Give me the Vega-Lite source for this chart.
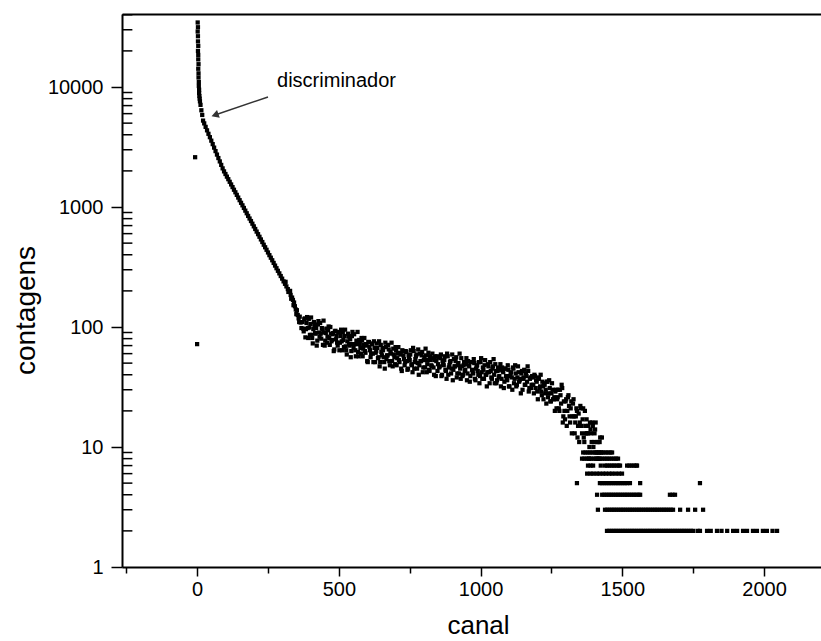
{
"$schema": "https://vega.github.io/schema/vega-lite/v6.json",
"width": 699, "height": 553,
"autosize": {"type": "none"},
"padding": {"left": 122, "top": 14, "right": 0, "bottom": 74},
"background": "white",
"config": {"view": {"stroke": null}, "font": "Liberation Sans",
 "axis": {"grid": false, "labelFont": "Liberation Sans", "titleFont": "Liberation Sans", "labelColor": "black", "titleColor": "black", "domainColor": "black", "tickColor": "black", "titleFontWeight": "normal"}},
"layer": [
{
"data": {"values": [{"m":2},{"m":3},{"m":4},{"m":5},{"m":6},{"m":7},{"m":8},{"m":9},{"m":20},{"m":30},{"m":40},{"m":50},{"m":60},{"m":70},{"m":80},{"m":90},{"m":200},{"m":300},{"m":400},{"m":500},{"m":600},{"m":700},{"m":800},{"m":900},{"m":2000},{"m":3000},{"m":4000},{"m":5000},{"m":6000},{"m":7000},{"m":8000},{"m":9000},{"m":20000},{"m":30000},{"m":40000}]},
"mark": {"type": "tick", "orient": "horizontal", "color": "black", "thickness": 1.5, "size": 10, "opacity": 1},
"encoding": {
"x": {"datum": -246, "type": "quantitative", "scale": {"domain": [-265, 2201], "nice": false, "zero": false}, "axis": null},
"y": {"field": "m", "type": "quantitative", "scale": {"type": "log", "domain": [1, 40600], "nice": false}, "axis": null}
}
},
{
"data": {"values": [
{"canal":2,"contagens":34500},{"canal":3,"contagens":31500},{"canal":2,"contagens":29000},{"canal":3,"contagens":26500},{"canal":3,"contagens":24000},{"canal":4,"contagens":22000},{"canal":3,"contagens":20000},{"canal":4,"contagens":18500},{"canal":4,"contagens":17000},{"canal":5,"contagens":15500},{"canal":4,"contagens":14200},{"canal":5,"contagens":13000},{"canal":5,"contagens":12000},{"canal":6,"contagens":11000},{"canal":6,"contagens":10200},{"canal":7,"contagens":9500},{"canal":7,"contagens":8900},{"canal":8,"contagens":8400},{"canal":9,"contagens":8000},{"canal":10,"contagens":7600},{"canal":12,"contagens":7100},{"canal":15,"contagens":6400},{"canal":18,"contagens":5850},
{"canal":-7,"contagens":2600},{"canal":0,"contagens":72},
{"canal":21,"contagens":5250},{"canal":25,"contagens":4977},{"canal":30,"contagens":4656},{"canal":35,"contagens":4355},{"canal":40,"contagens":4074},{"canal":45,"contagens":3819},{"canal":50,"contagens":3573},{"canal":55,"contagens":3342},{"canal":60,"contagens":3126},{"canal":65,"contagens":2924},{"canal":70,"contagens":2735},{"canal":75,"contagens":2559},{"canal":80,"contagens":2399},{"canal":85,"contagens":2244},{"canal":90,"contagens":2099},{"canal":95,"contagens":1982},{"canal":100,"contagens":1884},{"canal":105,"contagens":1791},{"canal":110,"contagens":1706},{"canal":115,"contagens":1622},{"canal":120,"contagens":1542},{"canal":125,"contagens":1466},{"canal":130,"contagens":1393},{"canal":135,"contagens":1327},{"canal":140,"contagens":1262},{"canal":145,"contagens":1199},{"canal":150,"contagens":1140},{"canal":155,"contagens":1084},{"canal":160,"contagens":1033},{"canal":165,"contagens":982},{"canal":170,"contagens":933},{"canal":175,"contagens":887},{"canal":180,"contagens":843},{"canal":185,"contagens":802},{"canal":190,"contagens":764},{"canal":195,"contagens":726},{"canal":200,"contagens":690},{"canal":205,"contagens":656},{"canal":210,"contagens":624},{"canal":215,"contagens":594},{"canal":220,"contagens":565},{"canal":225,"contagens":537},{"canal":230,"contagens":511},{"canal":235,"contagens":485},{"canal":240,"contagens":462},{"canal":245,"contagens":440},{"canal":250,"contagens":418},{"canal":255,"contagens":397},{"canal":260,"contagens":378},{"canal":265,"contagens":360},{"canal":270,"contagens":342},{"canal":275,"contagens":325},{"canal":280,"contagens":309},{"canal":285,"contagens":294},{"canal":290,"contagens":280},{"canal":295,"contagens":266},{"canal":300,"contagens":253},{"canal":305,"contagens":240},{"canal":310,"contagens":229},{"canal":312,"contagens":238},{"canal":315,"contagens":218},{"canal":320,"contagens":207},{"canal":322,"contagens":196},{"canal":325,"contagens":197},{"canal":328,"contagens":200},{"canal":330,"contagens":185},{"canal":332,"contagens":172},{"canal":335,"contagens":176},{"canal":338,"contagens":168},{"canal":340,"contagens":152},{"canal":342,"contagens":160},{"canal":345,"contagens":149},{"canal":348,"contagens":140},{"canal":350,"contagens":128},{"canal":352,"contagens":138},{"canal":355,"contagens":126},{"canal":358,"contagens":118},{"canal":360,"contagens":110},{"canal":362,"contagens":122},{"canal":365,"contagens":109},{"canal":368,"contagens":98},
{"canal":372,"contagens":110},{"canal":376,"contagens":92},{"canal":380,"contagens":118},{"canal":384,"contagens":96},{"canal":388,"contagens":121},{"canal":392,"contagens":81},{"canal":396,"contagens":99},{"canal":400,"contagens":106},{"canal":404,"contagens":86},{"canal":408,"contagens":73},{"canal":412,"contagens":110},{"canal":416,"contagens":89},{"canal":420,"contagens":98},{"canal":424,"contagens":77},{"canal":428,"contagens":112},{"canal":432,"contagens":83},{"canal":436,"contagens":88},{"canal":440,"contagens":98},{"canal":444,"contagens":71},{"canal":448,"contagens":90},{"canal":452,"contagens":77},{"canal":456,"contagens":97},{"canal":460,"contagens":83},{"canal":464,"contagens":101},{"canal":468,"contagens":71},{"canal":472,"contagens":88},{"canal":476,"contagens":78},{"canal":480,"contagens":89},{"canal":484,"contagens":65},{"canal":488,"contagens":93},{"canal":492,"contagens":84},{"canal":496,"contagens":70},{"canal":500,"contagens":91},{"canal":504,"contagens":74},{"canal":508,"contagens":95},{"canal":512,"contagens":64},{"canal":516,"contagens":78},{"canal":520,"contagens":84},{"canal":524,"contagens":69},{"canal":528,"contagens":59},{"canal":532,"contagens":88},{"canal":536,"contagens":72},{"canal":540,"contagens":79},{"canal":544,"contagens":63},{"canal":548,"contagens":91},{"canal":552,"contagens":67},{"canal":556,"contagens":72},{"canal":560,"contagens":57},{"canal":564,"contagens":72},{"canal":568,"contagens":62},{"canal":572,"contagens":78},{"canal":576,"contagens":67},{"canal":580,"contagens":81},{"canal":584,"contagens":57},{"canal":588,"contagens":71},{"canal":592,"contagens":63},{"canal":596,"contagens":72},{"canal":600,"contagens":52},{"canal":604,"contagens":75},{"canal":608,"contagens":68},{"canal":612,"contagens":56},{"canal":616,"contagens":73},{"canal":620,"contagens":60},{"canal":624,"contagens":76},{"canal":628,"contagens":51},{"canal":632,"contagens":63},{"canal":636,"contagens":67},{"canal":640,"contagens":56},{"canal":644,"contagens":47},{"canal":648,"contagens":71},{"canal":652,"contagens":58},{"canal":656,"contagens":64},{"canal":660,"contagens":51},{"canal":664,"contagens":74},{"canal":668,"contagens":54},{"canal":672,"contagens":58},{"canal":676,"contagens":65},{"canal":680,"contagens":48},{"canal":684,"contagens":60},{"canal":688,"contagens":52},{"canal":692,"contagens":66},{"canal":696,"contagens":56},{"canal":700,"contagens":68},{"canal":704,"contagens":48},{"canal":708,"contagens":60},{"canal":712,"contagens":53},{"canal":716,"contagens":61},{"canal":720,"contagens":45},{"canal":724,"contagens":64},{"canal":728,"contagens":58},{"canal":732,"contagens":48},{"canal":736,"contagens":63},{"canal":740,"contagens":52},{"canal":744,"contagens":45},{"canal":748,"contagens":55},{"canal":752,"contagens":59},{"canal":756,"contagens":49},{"canal":760,"contagens":42},{"canal":764,"contagens":63},{"canal":768,"contagens":51},{"canal":772,"contagens":57},{"canal":776,"contagens":45},{"canal":780,"contagens":65},{"canal":784,"contagens":48},{"canal":788,"contagens":52},{"canal":792,"contagens":58},{"canal":796,"contagens":42},{"canal":800,"contagens":53},{"canal":804,"contagens":46},{"canal":808,"contagens":58},{"canal":812,"contagens":49},{"canal":816,"contagens":61},{"canal":820,"contagens":43},{"canal":824,"contagens":53},{"canal":828,"contagens":47},{"canal":832,"contagens":55},{"canal":836,"contagens":40},{"canal":840,"contagens":57},{"canal":844,"contagens":52},{"canal":848,"contagens":43},{"canal":852,"contagens":56},{"canal":856,"contagens":47},{"canal":860,"contagens":59},{"canal":864,"contagens":40},{"canal":868,"contagens":49},{"canal":872,"contagens":53},{"canal":876,"contagens":44},{"canal":880,"contagens":37},{"canal":884,"contagens":57},{"canal":888,"contagens":46},{"canal":892,"contagens":51},{"canal":896,"contagens":41},{"canal":900,"contagens":59},{"canal":904,"contagens":44},{"canal":908,"contagens":47},{"canal":912,"contagens":52},{"canal":916,"contagens":38},{"canal":920,"contagens":48},{"canal":924,"contagens":41},{"canal":928,"contagens":45},{"canal":932,"contagens":55},{"canal":936,"contagens":39},{"canal":940,"contagens":48},{"canal":944,"contagens":43},{"canal":948,"contagens":49},{"canal":952,"contagens":36},{"canal":956,"contagens":52},{"canal":960,"contagens":47},{"canal":964,"contagens":39},{"canal":968,"contagens":51},{"canal":972,"contagens":42},{"canal":976,"contagens":54},{"canal":980,"contagens":37},{"canal":984,"contagens":45},{"canal":988,"contagens":48},{"canal":992,"contagens":40},{"canal":996,"contagens":34},{"canal":1000,"contagens":51},{"canal":1004,"contagens":42},{"canal":1008,"contagens":46},{"canal":1012,"contagens":37},{"canal":1016,"contagens":53},{"canal":1020,"contagens":40},{"canal":1024,"contagens":42},{"canal":1028,"contagens":47},{"canal":1032,"contagens":34},{"canal":1036,"contagens":43},{"canal":1040,"contagens":37},{"canal":1044,"contagens":47},{"canal":1048,"contagens":40},{"canal":1052,"contagens":49},{"canal":1056,"contagens":34},{"canal":1060,"contagens":43},{"canal":1064,"contagens":38},{"canal":1068,"contagens":44},{"canal":1072,"contagens":32},{"canal":1076,"contagens":46},{"canal":1080,"contagens":42},{"canal":1084,"contagens":35},{"canal":1088,"contagens":45},{"canal":1092,"contagens":37},{"canal":1096,"contagens":48},{"canal":1100,"contagens":32},{"canal":1104,"contagens":39},{"canal":1108,"contagens":42},{"canal":1112,"contagens":30},{"canal":1116,"contagens":45},{"canal":1120,"contagens":37},{"canal":1124,"contagens":41},{"canal":1128,"contagens":33},{"canal":1132,"contagens":47},{"canal":1136,"contagens":35},{"canal":1140,"contagens":37},{"canal":1144,"contagens":41},{"canal":1148,"contagens":30},{"canal":1152,"contagens":38},{"canal":1156,"contagens":33},{"canal":1160,"contagens":41},{"canal":1164,"contagens":35},{"canal":1168,"contagens":43},{"canal":1172,"contagens":31},{"canal":1176,"contagens":38},{"canal":1180,"contagens":33},{"canal":1184,"contagens":38},{"canal":1188,"contagens":28},{"canal":1192,"contagens":39},{"canal":1196,"contagens":36},{"canal":1200,"contagens":29},{"canal":1204,"contagens":38},{"canal":1208,"contagens":31},{"canal":1212,"contagens":40},{"canal":1216,"contagens":27},{"canal":1220,"contagens":32},{"canal":1224,"contagens":34},{"canal":1228,"contagens":28},{"canal":1232,"contagens":23},{"canal":1236,"contagens":35},{"canal":1240,"contagens":28},{"canal":1244,"contagens":31},{"canal":1248,"contagens":24},{"canal":1252,"contagens":34},{"canal":1256,"contagens":25},{"canal":1260,"contagens":26},{"canal":1264,"contagens":29},{"canal":1268,"contagens":21},{"canal":1272,"contagens":26},{"canal":1276,"contagens":21},{"canal":1280,"contagens":30},{"canal":1284,"contagens":23},{"canal":1288,"contagens":31},{"canal":1292,"contagens":18},{"canal":1296,"contagens":20},{"canal":1300,"contagens":24},{"canal":1304,"contagens":15},{"canal":1308,"contagens":26},{"canal":1312,"contagens":22},{"canal":1316,"contagens":16},{"canal":1320,"contagens":24},{"canal":1324,"contagens":18},{"canal":1328,"contagens":25},{"canal":1332,"contagens":13},{"canal":1336,"contagens":18},{"canal":1340,"contagens":20},{"canal":1344,"contagens":15},{"canal":1348,"contagens":11},{"canal":1352,"contagens":22},{"canal":1356,"contagens":15},{"canal":1360,"contagens":17},{"canal":1364,"contagens":12},{"canal":1368,"contagens":20},{"canal":1372,"contagens":13},{"canal":1376,"contagens":13},{"canal":1380,"contagens":15},{"canal":1384,"contagens":10},{"canal":1388,"contagens":14},{"canal":1392,"contagens":11},{"canal":1396,"contagens":15},{"canal":1400,"contagens":11},{"canal":1404,"contagens":14},{"canal":1408,"contagens":9},{"canal":1412,"contagens":11},{"canal":1416,"contagens":9},{"canal":1420,"contagens":11},{"canal":1424,"contagens":7},{"canal":1428,"contagens":12},
{"canal":374,"contagens":97},{"canal":378,"contagens":116},{"canal":382,"contagens":82},{"canal":386,"contagens":108},{"canal":390,"contagens":98},{"canal":394,"contagens":117},{"canal":398,"contagens":86},{"canal":402,"contagens":120},{"canal":406,"contagens":81},{"canal":410,"contagens":96},{"canal":414,"contagens":103},{"canal":418,"contagens":88},{"canal":422,"contagens":70},{"canal":426,"contagens":105},{"canal":430,"contagens":90},{"canal":434,"contagens":108},{"canal":438,"contagens":80},{"canal":442,"contagens":95},{"canal":446,"contagens":113},{"canal":450,"contagens":70},{"canal":454,"contagens":89},{"canal":458,"contagens":74},{"canal":462,"contagens":94},{"canal":466,"contagens":81},{"canal":470,"contagens":100},{"canal":474,"contagens":76},{"canal":478,"contagens":87},{"canal":482,"contagens":63},{"canal":486,"contagens":92},{"canal":490,"contagens":79},{"canal":494,"contagens":74},{"canal":498,"contagens":90},{"canal":502,"contagens":64},{"canal":506,"contagens":84},{"canal":510,"contagens":76},{"canal":514,"contagens":91},{"canal":518,"contagens":68},{"canal":522,"contagens":95},{"canal":526,"contagens":64},{"canal":530,"contagens":76},{"canal":534,"contagens":83},{"canal":538,"contagens":70},{"canal":542,"contagens":56},{"canal":546,"contagens":84},{"canal":550,"contagens":72},{"canal":554,"contagens":87},{"canal":558,"contagens":64},{"canal":562,"contagens":77},{"canal":566,"contagens":91},{"canal":570,"contagens":57},{"canal":574,"contagens":72},{"canal":578,"contagens":60},{"canal":582,"contagens":77},{"canal":586,"contagens":66},{"canal":590,"contagens":81},{"canal":594,"contagens":61},{"canal":598,"contagens":70},{"canal":602,"contagens":51},{"canal":606,"contagens":75},{"canal":610,"contagens":64},{"canal":614,"contagens":60},{"canal":618,"contagens":72},{"canal":622,"contagens":51},{"canal":626,"contagens":67},{"canal":630,"contagens":61},{"canal":634,"contagens":73},{"canal":638,"contagens":55},{"canal":642,"contagens":76},{"canal":646,"contagens":51},{"canal":650,"contagens":62},{"canal":654,"contagens":67},{"canal":658,"contagens":56},{"canal":662,"contagens":45},{"canal":666,"contagens":68},{"canal":670,"contagens":58},{"canal":674,"contagens":71},{"canal":678,"contagens":52},{"canal":682,"contagens":62},{"canal":686,"contagens":74},{"canal":690,"contagens":47},{"canal":694,"contagens":59},{"canal":698,"contagens":49},{"canal":702,"contagens":64},{"canal":706,"contagens":55},{"canal":710,"contagens":68},{"canal":714,"contagens":51},{"canal":718,"contagens":59},{"canal":722,"contagens":43},{"canal":726,"contagens":63},{"canal":730,"contagens":54},{"canal":734,"contagens":51},{"canal":738,"contagens":62},{"canal":742,"contagens":44},{"canal":746,"contagens":58},{"canal":750,"contagens":53},{"canal":754,"contagens":64},{"canal":758,"contagens":48},{"canal":762,"contagens":67},{"canal":766,"contagens":45},{"canal":770,"contagens":54},{"canal":774,"contagens":59},{"canal":778,"contagens":50},{"canal":782,"contagens":40},{"canal":786,"contagens":60},{"canal":790,"contagens":52},{"canal":794,"contagens":62},{"canal":798,"contagens":46},{"canal":802,"contagens":56},{"canal":806,"contagens":66},{"canal":810,"contagens":42},{"canal":814,"contagens":53},{"canal":818,"contagens":44},{"canal":822,"contagens":57},{"canal":826,"contagens":48},{"canal":830,"contagens":60},{"canal":834,"contagens":46},{"canal":838,"contagens":53},{"canal":842,"contagens":39},{"canal":846,"contagens":57},{"canal":850,"contagens":49},{"canal":854,"contagens":46},{"canal":858,"contagens":55},{"canal":862,"contagens":39},{"canal":866,"contagens":52},{"canal":870,"contagens":48},{"canal":874,"contagens":57},{"canal":878,"contagens":43},{"canal":882,"contagens":60},{"canal":886,"contagens":40},{"canal":890,"contagens":48},{"canal":894,"contagens":52},{"canal":898,"contagens":45},{"canal":902,"contagens":36},{"canal":906,"contagens":54},{"canal":910,"contagens":47},{"canal":914,"contagens":56},{"canal":918,"contagens":41},{"canal":922,"contagens":50},{"canal":926,"contagens":60},{"canal":930,"contagens":37},{"canal":934,"contagens":47},{"canal":938,"contagens":40},{"canal":942,"contagens":51},{"canal":946,"contagens":44},{"canal":950,"contagens":55},{"canal":954,"contagens":41},{"canal":958,"contagens":48},{"canal":962,"contagens":35},{"canal":966,"contagens":51},{"canal":970,"contagens":44},{"canal":974,"contagens":41},{"canal":978,"contagens":50},{"canal":982,"contagens":36},{"canal":986,"contagens":47},{"canal":990,"contagens":43},{"canal":994,"contagens":51},{"canal":998,"contagens":39},{"canal":1002,"contagens":55},{"canal":1006,"contagens":37},{"canal":1010,"contagens":44},{"canal":1014,"contagens":48},{"canal":1018,"contagens":40},{"canal":1022,"contagens":32},{"canal":1026,"contagens":49},{"canal":1030,"contagens":42},{"canal":1034,"contagens":51},{"canal":1038,"contagens":38},{"canal":1042,"contagens":45},{"canal":1046,"contagens":54},{"canal":1050,"contagens":34},{"canal":1054,"contagens":43},{"canal":1058,"contagens":36},{"canal":1062,"contagens":46},{"canal":1066,"contagens":39},{"canal":1070,"contagens":49},{"canal":1074,"contagens":37},{"canal":1078,"contagens":43},{"canal":1082,"contagens":31},{"canal":1086,"contagens":45},{"canal":1090,"contagens":39},{"canal":1094,"contagens":36},{"canal":1098,"contagens":44},{"canal":1102,"contagens":32},{"canal":1106,"contagens":41},{"canal":1110,"contagens":38},{"canal":1114,"contagens":46},{"canal":1118,"contagens":34},{"canal":1122,"contagens":48},{"canal":1126,"contagens":32},{"canal":1130,"contagens":38},{"canal":1134,"contagens":42},{"canal":1138,"contagens":36},{"canal":1142,"contagens":28},{"canal":1146,"contagens":43},{"canal":1150,"contagens":37},{"canal":1154,"contagens":44},{"canal":1158,"contagens":33},{"canal":1162,"contagens":39},{"canal":1166,"contagens":47},{"canal":1170,"contagens":29},{"canal":1174,"contagens":37},{"canal":1178,"contagens":31},{"canal":1182,"contagens":39},{"canal":1186,"contagens":33},{"canal":1190,"contagens":40},{"canal":1194,"contagens":31},{"canal":1198,"contagens":35},{"canal":1202,"contagens":25},{"canal":1206,"contagens":37},{"canal":1210,"contagens":32},{"canal":1214,"contagens":29},{"canal":1218,"contagens":35},{"canal":1222,"contagens":25},{"canal":1226,"contagens":33},{"canal":1230,"contagens":30},{"canal":1234,"contagens":35},{"canal":1238,"contagens":26},{"canal":1242,"contagens":36},{"canal":1246,"contagens":24},{"canal":1250,"contagens":28},{"canal":1254,"contagens":30},{"canal":1258,"contagens":25},{"canal":1262,"contagens":20},{"canal":1266,"contagens":30},{"canal":1270,"contagens":25},{"canal":1274,"contagens":30},{"canal":1278,"contagens":20},{"canal":1282,"contagens":27},{"canal":1286,"contagens":33},{"canal":1290,"contagens":16},{"canal":1294,"contagens":24},{"canal":1298,"contagens":17},{"canal":1302,"contagens":25},{"canal":1306,"contagens":20},{"canal":1310,"contagens":27},{"canal":1314,"contagens":18},{"canal":1318,"contagens":21},{"canal":1322,"contagens":13},{"canal":1326,"contagens":23},{"canal":1330,"contagens":18},{"canal":1334,"contagens":16},{"canal":1338,"contagens":21},{"canal":1342,"contagens":12},{"canal":1346,"contagens":19},{"canal":1350,"contagens":16},{"canal":1354,"contagens":21},{"canal":1358,"contagens":13},{"canal":1362,"contagens":21},{"canal":1366,"contagens":11},{"canal":1370,"contagens":15},{"canal":1374,"contagens":17},{"canal":1378,"contagens":13},{"canal":1382,"contagens":8},{"canal":1386,"contagens":16},{"canal":1390,"contagens":13},{"canal":1394,"contagens":16},{"canal":1398,"contagens":10},{"canal":1402,"contagens":13},{"canal":1406,"contagens":16},{"canal":1410,"contagens":8},{"canal":1414,"contagens":11},{"canal":1418,"contagens":8},{"canal":1422,"contagens":12},{"canal":1426,"contagens":9},
{"canal":1362,"contagens":9},{"canal":1370,"contagens":9},{"canal":1378,"contagens":9},{"canal":1386,"contagens":9},{"canal":1394,"contagens":9},{"canal":1402,"contagens":9},{"canal":1410,"contagens":9},{"canal":1418,"contagens":9},{"canal":1426,"contagens":9},{"canal":1434,"contagens":9},{"canal":1442,"contagens":9},{"canal":1450,"contagens":9},{"canal":1458,"contagens":9},{"canal":1464,"contagens":9},
{"canal":1358,"contagens":8},{"canal":1366,"contagens":8},{"canal":1374,"contagens":8},{"canal":1382,"contagens":8},{"canal":1390,"contagens":8},{"canal":1398,"contagens":8},{"canal":1406,"contagens":8},{"canal":1414,"contagens":8},{"canal":1422,"contagens":8},{"canal":1430,"contagens":8},{"canal":1438,"contagens":8},{"canal":1446,"contagens":8},{"canal":1454,"contagens":8},{"canal":1462,"contagens":8},{"canal":1470,"contagens":8},{"canal":1478,"contagens":8},{"canal":1485,"contagens":8},
{"canal":1379,"contagens":7},{"canal":1388,"contagens":7},{"canal":1397,"contagens":7},{"canal":1439,"contagens":7},{"canal":1447,"contagens":7},{"canal":1455,"contagens":7},{"canal":1463,"contagens":7},{"canal":1471,"contagens":7},{"canal":1479,"contagens":7},{"canal":1487,"contagens":7},{"canal":1492,"contagens":7},{"canal":1517,"contagens":7},{"canal":1525,"contagens":7},{"canal":1533,"contagens":7},{"canal":1541,"contagens":7},{"canal":1549,"contagens":7},{"canal":1552,"contagens":7},
{"canal":1376,"contagens":6},{"canal":1388,"contagens":6},{"canal":1398,"contagens":6},{"canal":1410,"contagens":6},{"canal":1420,"contagens":6},{"canal":1432,"contagens":6},{"canal":1442,"contagens":6},{"canal":1454,"contagens":6},{"canal":1464,"contagens":6},{"canal":1476,"contagens":6},{"canal":1488,"contagens":6},{"canal":1499,"contagens":6},
{"canal":1340,"contagens":5},{"canal":1421,"contagens":5},{"canal":1429,"contagens":5},{"canal":1437,"contagens":5},{"canal":1445,"contagens":5},{"canal":1453,"contagens":5},{"canal":1461,"contagens":5},{"canal":1469,"contagens":5},{"canal":1477,"contagens":5},{"canal":1485,"contagens":5},{"canal":1493,"contagens":5},{"canal":1501,"contagens":5},{"canal":1509,"contagens":5},{"canal":1517,"contagens":5},{"canal":1527,"contagens":5},{"canal":1563,"contagens":5},{"canal":1774,"contagens":5},
{"canal":1411,"contagens":4},{"canal":1429,"contagens":4},{"canal":1437,"contagens":4},{"canal":1445,"contagens":4},{"canal":1453,"contagens":4},{"canal":1461,"contagens":4},{"canal":1469,"contagens":4},{"canal":1477,"contagens":4},{"canal":1485,"contagens":4},{"canal":1493,"contagens":4},{"canal":1501,"contagens":4},{"canal":1509,"contagens":4},{"canal":1517,"contagens":4},{"canal":1525,"contagens":4},{"canal":1533,"contagens":4},{"canal":1541,"contagens":4},{"canal":1549,"contagens":4},{"canal":1557,"contagens":4},{"canal":1563,"contagens":4},{"canal":1668,"contagens":4},{"canal":1677,"contagens":4},{"canal":1686,"contagens":4},
{"canal":1414,"contagens":3},{"canal":1439,"contagens":3},{"canal":1447,"contagens":3},{"canal":1455,"contagens":3},{"canal":1463,"contagens":3},{"canal":1471,"contagens":3},{"canal":1479,"contagens":3},{"canal":1487,"contagens":3},{"canal":1495,"contagens":3},{"canal":1503,"contagens":3},{"canal":1511,"contagens":3},{"canal":1519,"contagens":3},{"canal":1527,"contagens":3},{"canal":1535,"contagens":3},{"canal":1543,"contagens":3},{"canal":1551,"contagens":3},{"canal":1559,"contagens":3},{"canal":1567,"contagens":3},{"canal":1575,"contagens":3},{"canal":1583,"contagens":3},{"canal":1591,"contagens":3},{"canal":1599,"contagens":3},{"canal":1607,"contagens":3},{"canal":1615,"contagens":3},{"canal":1623,"contagens":3},{"canal":1631,"contagens":3},{"canal":1639,"contagens":3},{"canal":1647,"contagens":3},{"canal":1655,"contagens":3},{"canal":1663,"contagens":3},{"canal":1671,"contagens":3},{"canal":1679,"contagens":3},{"canal":1704,"contagens":3},{"canal":1732,"contagens":3},{"canal":1757,"contagens":3},{"canal":1785,"contagens":3},
{"canal":1446,"contagens":2},{"canal":1454,"contagens":2},{"canal":1462,"contagens":2},{"canal":1470,"contagens":2},{"canal":1478,"contagens":2},{"canal":1486,"contagens":2},{"canal":1494,"contagens":2},{"canal":1502,"contagens":2},{"canal":1510,"contagens":2},{"canal":1518,"contagens":2},{"canal":1526,"contagens":2},{"canal":1534,"contagens":2},{"canal":1542,"contagens":2},{"canal":1550,"contagens":2},{"canal":1558,"contagens":2},{"canal":1566,"contagens":2},{"canal":1574,"contagens":2},{"canal":1582,"contagens":2},{"canal":1590,"contagens":2},{"canal":1598,"contagens":2},{"canal":1606,"contagens":2},{"canal":1614,"contagens":2},{"canal":1622,"contagens":2},{"canal":1630,"contagens":2},{"canal":1638,"contagens":2},{"canal":1646,"contagens":2},{"canal":1654,"contagens":2},{"canal":1662,"contagens":2},{"canal":1670,"contagens":2},{"canal":1678,"contagens":2},{"canal":1686,"contagens":2},{"canal":1694,"contagens":2},{"canal":1702,"contagens":2},{"canal":1710,"contagens":2},{"canal":1718,"contagens":2},{"canal":1726,"contagens":2},{"canal":1734,"contagens":2},{"canal":1742,"contagens":2},{"canal":1750,"contagens":2},{"canal":1766,"contagens":2},{"canal":1774,"contagens":2},{"canal":1799,"contagens":2},{"canal":1812,"contagens":2},{"canal":1834,"contagens":2},{"canal":1850,"contagens":2},{"canal":1870,"contagens":2},{"canal":1891,"contagens":2},{"canal":1905,"contagens":2},{"canal":1926,"contagens":2},{"canal":1940,"contagens":2},{"canal":1961,"contagens":2},{"canal":1975,"contagens":2},{"canal":1996,"contagens":2},{"canal":2010,"contagens":2},{"canal":2030,"contagens":2},{"canal":2046,"contagens":2}
]},
"mark": {"type": "point", "shape": "square", "filled": true, "size": 18, "color": "black", "opacity": 1, "strokeWidth": 0},
"encoding": {
"x": {"field": "canal", "type": "quantitative", "scale": {"domain": [-265, 2201], "nice": false, "zero": false},
 "axis": {"orient": "bottom", "values": [0, 500, 1000, 1500, 2000], "format": "d", "labelFontSize": 20, "labelFlush": false, "labelOverlap": false, "tickSize": 9, "tickWidth": 1.5, "domainWidth": 2, "labelPadding": 3, "title": "canal", "titleFontSize": 26, "titleX": 356, "titleY": 66, "titleBaseline": "alphabetic", "titleAlign": "center"}},
"y": {"field": "contagens", "type": "quantitative", "scale": {"type": "log", "domain": [1, 40600], "nice": false},
 "axis": {"orient": "left", "values": [1, 10, 100, 1000, 10000], "format": "d", "labelFontSize": 20, "labelFlush": false, "labelOverlap": false, "tickSize": 11, "tickWidth": 1.5, "domainWidth": 2, "labelPadding": 8, "title": "contagens", "titleFontSize": 28, "titleAngle": -90, "titleX": -96, "titleY": 296, "titleAlign": "center", "titleBaseline": "middle"}}
}
},
{
"data": {"values": [{"x1": 250, "y1": 8260, "x2": 63, "y2": 5840}]},
"mark": {"type": "rule", "color": "#333333", "strokeWidth": 1.5},
"encoding": {
"x": {"field": "x1", "type": "quantitative", "scale": {"domain": [-265, 2201], "nice": false, "zero": false},
 "axis": {"orient": "bottom", "values": [-250, 250, 750, 1250, 1750], "labels": false, "domain": false, "tickSize": 6, "tickWidth": 1.5, "title": null}},
"x2": {"field": "x2"},
"y": {"field": "y1", "type": "quantitative", "scale": {"type": "log", "domain": [1, 40600], "nice": false}, "axis": null},
"y2": {"field": "y2"}
}
},
{
"data": {"values": [{"x": 282, "y": 10000, "t": "discriminador"}]},
"mark": {"type": "text", "align": "left", "baseline": "alphabetic", "fontSize": 20, "font": "Liberation Sans", "color": "black"},
"encoding": {
"x": {"field": "x", "type": "quantitative", "scale": {"domain": [-265, 2201], "nice": false, "zero": false},
 "axis": {"orient": "top", "ticks": false, "labels": false, "domain": true, "domainWidth": 2, "title": null}},
"y": {"field": "y", "type": "quantitative", "scale": {"type": "log", "domain": [1, 40600], "nice": false}, "axis": null},
"text": {"field": "t"}
}
},
{
"data": {"values": [{"x": 63, "y": 5840}]},
"mark": {"type": "point", "shape": "triangle-left", "filled": true, "size": 70, "color": "#333333", "opacity": 1, "angle": 341},
"encoding": {
"x": {"field": "x", "type": "quantitative", "scale": {"domain": [-265, 2201], "nice": false, "zero": false}, "axis": null},
"y": {"field": "y", "type": "quantitative", "scale": {"type": "log", "domain": [1, 40600], "nice": false}, "axis": null}
}
}
],
"resolve": {"axis": {"x": "independent", "y": "independent"}}
}
